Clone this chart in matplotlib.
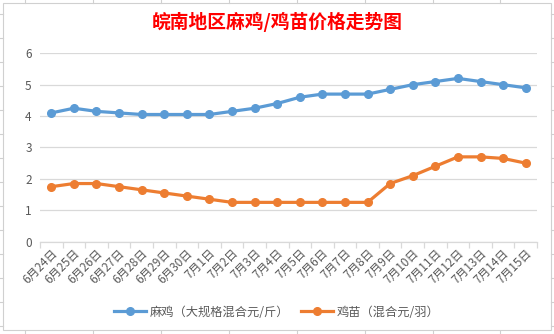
import matplotlib
matplotlib.use("Agg")
import matplotlib.pyplot as plt
from matplotlib.lines import Line2D
from matplotlib.patches import Rectangle
import matplotlib.transforms as mtransforms
import numpy as np

plt.rcParams['font.family'] = ['Noto Sans CJK SC', 'DejaVu Sans']

dates = ["6月24日", "6月25日", "6月26日", "6月27日", "6月28日", "6月29日", "6月30日",
         "7月1日", "7月2日", "7月3日", "7月4日", "7月5日", "7月6日", "7月7日", "7月8日",
         "7月9日", "7月10日", "7月11日", "7月12日", "7月13日", "7月14日", "7月15日"]
maji = [4.1, 4.25, 4.15, 4.1, 4.05, 4.05, 4.05, 4.05, 4.15, 4.25, 4.4,
        4.6, 4.7, 4.7, 4.7, 4.85, 5.0, 5.1, 5.2, 5.1, 5.0, 4.9]
jimiao = [1.75, 1.85, 1.85, 1.75, 1.65, 1.55, 1.45, 1.35, 1.25, 1.25, 1.25,
          1.25, 1.25, 1.25, 1.25, 1.85, 2.1, 2.4, 2.7, 2.7, 2.65, 2.5]
series_names = ["麻鸡（大规格混合元/斤）", "鸡苗（混合元/羽）"]
title = "皖南地区麻鸡/鸡苗价格走势图"
yticks = [0, 1, 2, 3, 4, 5, 6]

W, H = 554, 334
fig = plt.figure(figsize=(W / 100, H / 100), dpi=100)
fig.patch.set_facecolor('white')

# spreadsheet cell marks outside chart area
for xv in [25, 93, 161, 229, 297, 365, 433, 500]:
    fig.add_artist(Line2D([xv / W, xv / W], [1, 1 - 3 / H], color='#D0D0D0', lw=0.8))
    fig.add_artist(Line2D([xv / W, xv / W], [0, 3 / H], color='#D0D0D0', lw=0.8))
for yv in range(14, 334, 24):
    fig.add_artist(Line2D([0, 3 / W], [1 - yv / H, 1 - yv / H], color='#D0D0D0', lw=0.8))
    fig.add_artist(Line2D([1, 1 - 3 / W], [1 - yv / H, 1 - yv / H], color='#D0D0D0', lw=0.8))
# chart border
fig.add_artist(Rectangle((3 / W, 4 / H), 548 / W, 327 / H, fill=False,
                         edgecolor='#D0D0D0', lw=0.8, transform=fig.transFigure))

left, right = 40, 537
top, bottom = 53.3, 241.6
ax = fig.add_axes([left / W, 1 - bottom / H, (right - left) / W, (bottom - top) / H])
x = np.arange(len(dates))
ax.set_xlim(-0.5, len(dates) - 0.5)
ax.set_ylim(0, 6)

blue = '#5B9BD5'
orange = '#ED7D31'
ax.plot(x, maji, color=blue, lw=2.3, marker='o', ms=5.5, label=series_names[0],
        solid_capstyle='round', zorder=3)
ax.plot(x, jimiao, color=orange, lw=2.3, marker='o', ms=5.5, label=series_names[1],
        solid_capstyle='round', zorder=3)

ax.set_yticks(yticks)
ax.set_yticklabels([str(v) for v in yticks], color='#595959', fontsize=8.5)
ax.tick_params(axis='y', length=0, pad=6)
ax.grid(axis='y', color='#D9D9D9', lw=0.9)
ax.set_axisbelow(True)
for s in ['left', 'right', 'top']:
    ax.spines[s].set_visible(False)
ax.spines['bottom'].set_color('#D9D9D9')
ax.spines['bottom'].set_linewidth(0.9)

ax.set_xticks(x)
ax.set_xticklabels(dates, rotation=45, ha='right', va='center', rotation_mode='anchor',
                   color='#595959', fontsize=8.5)
ax.set_xticks(np.arange(-0.5, len(dates), 1), minor=True)
ax.tick_params(axis='x', which='major', length=0, pad=7)
ax.tick_params(axis='x', which='minor', length=4, color='#D9D9D9', width=0.9)
offset = mtransforms.ScaledTranslation(4 / 100, 0, fig.dpi_scale_trans)
for lbl in ax.get_xticklabels():
    lbl.set_transform(lbl.get_transform() + offset)

fig.text(0.5, 1 - 22 / H, title, ha='center', va='center', color='#FF0000',
         fontsize=13.5, fontweight='semibold')

handles = [Line2D([0], [0], color=blue, lw=2.3, marker='o', ms=5.5),
           Line2D([0], [0], color=orange, lw=2.3, marker='o', ms=5.5)]
fig.legend(handles, series_names, loc='center', bbox_to_anchor=(0.5, 1 - 312 / H),
           ncol=2, frameon=False, fontsize=8.8, handlelength=2.6, columnspacing=1.0,
           handletextpad=0.3, labelcolor='#595959')

fig.savefig('out.png', dpi=100, facecolor='white')
